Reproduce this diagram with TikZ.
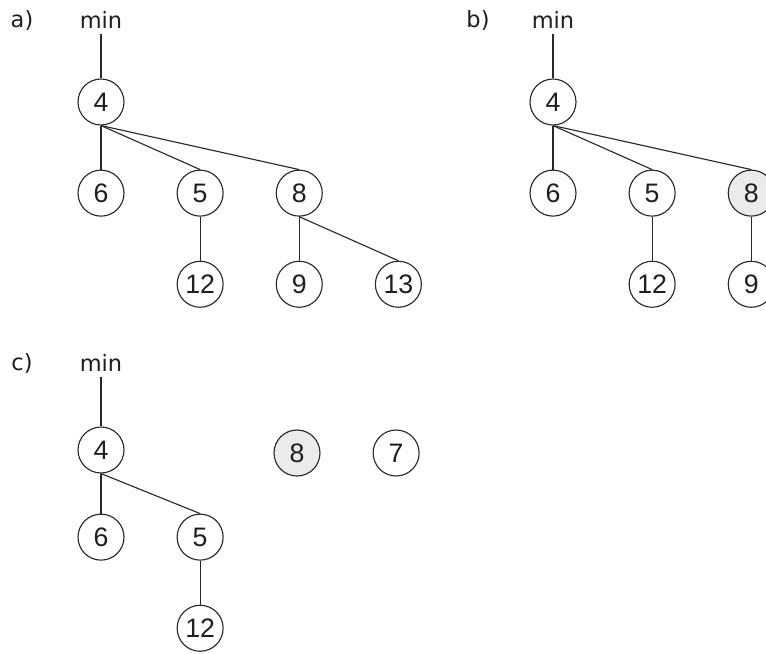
\documentclass[tikz,border=0pt]{standalone}
\usepackage{fontspec}
\setmainfont{DejaVu Sans}
\newfontfamily\keyfont{Liberation Sans}
\definecolor{edgegray}{RGB}{40, 40, 40}
\definecolor{markgray}{RGB}{235, 235, 235}
\definecolor{textdark}{RGB}{30, 30, 30}
\usetikzlibrary{positioning}

\begin{document}
\begin{tikzpicture}[node distance=1.1cm and 1.3cm, font=\fontsize{16}{19}\selectfont, text=textdark]
      \useasboundingbox (0,0) rectangle (19.15,-16.325);
      \tikzset{
        heapnode/.style={circle, draw=edgegray, line width=0.8pt, minimum size=1.15cm, inner sep=0pt, font=\keyfont\fontsize{19}{22}\selectfont},
        marked/.style={heapnode, fill=markgray},
        link/.style={draw=edgegray, line width=0.8pt}
      }

      % a) heap before the cut
      \node (la) at (0.55,-0.5) {a)};
      \node (mina) at (2.525,-0.5) {min};
      \node (a4) [heapnode] at (2.525,-2.55) {4};
      \node (a6) [heapnode, below=of a4] {6};
      \node (a5) [heapnode, right=of a6] {5};
      \node (a8) [heapnode, right=of a5] {8};
      \node (a12) [heapnode, below=of a5] {12};
      \node (a9) [heapnode, below=of a8] {9};
      \node (a13) [heapnode, right=of a9] {13};

      \draw[link] (mina) -- (a4);
      \draw[link] (a4.south) -- (a6.north);
      \draw[link] (a4.south) -- (a5.north);
      \draw[link] (a4.south) -- (a8.north);
      \draw[link] (a5.south) -- (a12.north);
      \draw[link] (a8.south) -- (a9.north);
      \draw[link] (a8.south) -- (a13.north);

      % b) node 8 marked
      \node (lb) at (11.95,-0.5) {b)};
      \node (minb) at (13.825,-0.5) {min};
      \node (b4) [heapnode] at (13.825,-2.55) {4};
      \node (b6) [heapnode, below=of b4] {6};
      \node (b5) [heapnode, right=of b6] {5};
      \node (b8) [marked, right=of b5] {8};
      \node (b12) [heapnode, below=of b5] {12};
      \node (b9) [heapnode, below=of b8] {9};

      \draw[link] (minb) -- (b4);
      \draw[link] (b4.south) -- (b6.north);
      \draw[link] (b4.south) -- (b5.north);
      \draw[link] (b4.south) -- (b8.north);
      \draw[link] (b5.south) -- (b12.north);
      \draw[link] (b8.south) -- (b9.north);

      % c) after the cut
      \node (lc) at (0.55,-9.075) {c)};
      \node (minc) at (2.525,-9.075) {min};
      \node (c4) [heapnode] at (2.525,-11.25) {4};
      \node (c6) [heapnode, below=1.0cm of c4] {6};
      \node (c5) [heapnode, right=of c6] {5};
      \node (c12) [heapnode, below=of c5] {12};
      \node (c8) [marked] at (7.425,-11.325) {8};
      \node (c7) [heapnode, right=of c8] {7};

      \draw[link] (minc) -- (c4);
      \draw[link] (c4.south) -- (c6.north);
      \draw[link] (c4.south) -- (c5.north);
      \draw[link] (c5.south) -- (c12.north);
    \end{tikzpicture}
\end{document}
